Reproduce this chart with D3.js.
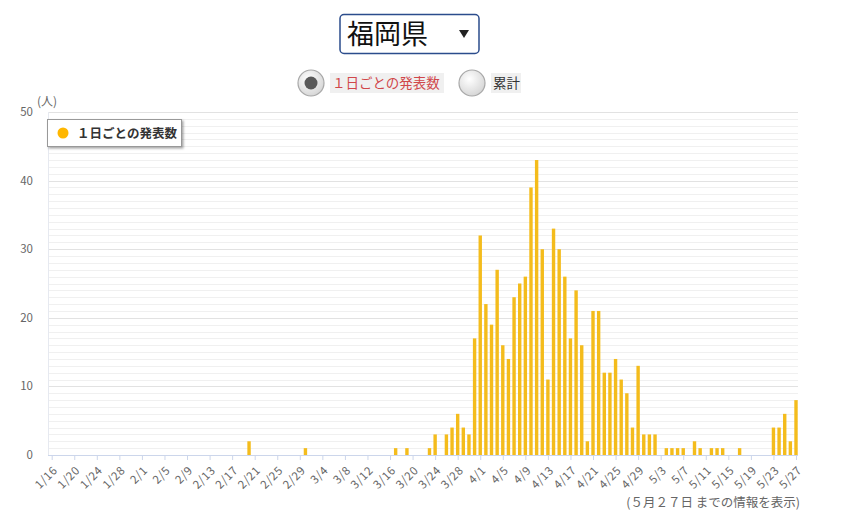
<!DOCTYPE html>
<html>
<head>
<meta charset="utf-8">
<script src="https://cdn.jsdelivr.net/npm/d3@7"></script>
<style>
  body { margin: 0; background: #fff; }
  svg text { font-family: "Noto Sans CJK JP", "Noto Sans", sans-serif; }
</style>
</head>
<body>
<div id="chart"></div>
<script>
// daily new cases, one array per month (1/16 .. 5/27)
const janValues = [0,0,0,0,0,0,0,0,0,0,0,0,0,0,0,0];                       // 1/16-1/31
const febValues = [0,0,0,0,0,0,0,0,0,0,0,0,0,0,0,0,0,0,0,2,0,0,0,0,0,0,0,0,0]; // 2/1-2/29
const marValues = [1,0,0,0,0,0,0,0,0,0,0,0,0,0,0,0,1,0,1,0,0,0,1,3,0,3,4,6,4,3,17];
const aprValues = [32,22,19,27,16,14,23,25,26,39,43,30,11,33,30,26,17,24,16,2,21,21,12,12,14,11,9,4,13,3];
const mayValues = [3,3,0,1,1,1,1,0,2,1,0,1,1,1,0,0,1,0,0,0,0,0,4,4,6,2,8];

const months = [
  {m: 1, start: 16, values: janValues},
  {m: 2, start: 1, values: febValues},
  {m: 3, start: 1, values: marValues},
  {m: 4, start: 1, values: aprValues},
  {m: 5, start: 1, values: mayValues}
];

const tickLabels = ["1/16","1/20","1/24","1/28","2/1","2/5","2/9","2/13","2/17","2/21","2/25","2/29",
  "3/4","3/8","3/12","3/16","3/20","3/24","3/28","4/1","4/5","4/9","4/13","4/17","4/21","4/25","4/29",
  "5/3","5/7","5/11","5/15","5/19","5/23","5/27"];
const yTicks = [0, 10, 20, 30, 40, 50];

const seriesName = "１日ごとの発表数";
const prefName = "福岡県";
const noteText = "(５月２７日 までの情報を表示)";

let data = [];
months.forEach(mo => {
  mo.values.forEach((v, i) => data.push({label: mo.m + "/" + (mo.start + i), value: v}));
});

const width = 846, height = 512;
const svg = d3.select("#chart").append("svg")
  .attr("width", width).attr("height", height);

let defs = svg.append("defs");
let grad = defs.append("radialGradient").attr("id", "radioGrad")
  .attr("cx", "40%").attr("cy", "35%").attr("r", "70%");
grad.append("stop").attr("offset", "0%").attr("stop-color", "#ffffff");
grad.append("stop").attr("offset", "100%").attr("stop-color", "#d4d4d4");
let shadow = defs.append("filter").attr("id", "shadow")
  .attr("x", "-10%").attr("y", "-10%").attr("width", "130%").attr("height", "150%");
shadow.append("feDropShadow").attr("dx", 1.5).attr("dy", 1.5).attr("stdDeviation", 1.2)
  .attr("flood-color", "#000").attr("flood-opacity", 0.35);

// prefecture selector
let sel = svg.append("g");
sel.append("rect").attr("x", 340).attr("y", 14.5).attr("width", 139).attr("height", 39)
  .attr("rx", 4).attr("fill", "#fff").attr("stroke", "#2b4c8c").attr("stroke-width", 1.5);
sel.append("text").attr("x", 347).attr("y", 44).attr("font-size", 27).attr("fill", "#111")
  .text(prefName);
sel.append("path").attr("d", "M459,30 L469,30 L464,38 Z").attr("fill", "#222");

// radio buttons
function radio(cx, cy, checked, label, color, lx, lw) {
  let g = svg.append("g");
  g.append("circle").attr("cx", cx).attr("cy", cy).attr("r", 13)
    .attr("fill", "url(#radioGrad)").attr("stroke", "#a8a8a8").attr("stroke-width", 1.2);
  if (checked) {
    g.append("circle").attr("cx", cx).attr("cy", cy).attr("r", 6.5).attr("fill", "#5a5a5a");
  }
  g.append("rect").attr("x", lx).attr("y", 73).attr("width", lw).attr("height", 20).attr("fill", "#f0f0f0");
  g.append("text").attr("x", lx + 2).attr("y", 88).attr("font-size", 13.5).attr("fill", color)
    .text(label);
}
radio(311, 83, true, seriesName, "#d0474a", 330, 114);
radio(472, 83, false, "累計", "#333", 491, 30);

// chart area
const plotLeft = 48, plotRight = 798;
const x = d3.scalePoint().domain(data.map(d => d.label)).range([51.7, 796]);
const y = d3.scaleLinear().domain([0, 50]).range([455, 112]);

// grid lines, one per unit
let grid = svg.append("g");
grid.selectAll("line").data(d3.range(1, 51)).join("line")
  .attr("x1", plotLeft).attr("x2", plotRight)
  .attr("y1", d => Math.round(y(d)) + 0.5).attr("y2", d => Math.round(y(d)) + 0.5)
  .attr("stroke", d => d % 10 === 0 ? "#e2e2e2" : "#f0f0f0").attr("stroke-width", 1);
svg.append("line").attr("x1", plotLeft + 0.5).attr("x2", plotLeft + 0.5)
  .attr("y1", y(50)).attr("y2", y(0)).attr("stroke", "#e6e9f0");

// y labels
svg.append("g").selectAll("text").data(yTicks).join("text")
  .attr("x", 33).attr("y", d => y(d) + 4).attr("text-anchor", "end")
  .attr("font-size", 11.5).attr("fill", "#666").text(d => d);
svg.append("text").attr("x", 37).attr("y", 106).attr("font-size", 12).attr("fill", "#666").text("(人)");

// bars
const barW = 3.4;
svg.append("g").selectAll("rect").data(data.filter(d => d.value > 0)).join("rect")
  .attr("x", d => x(d.label) - barW / 2).attr("width", barW)
  .attr("y", d => y(d.value)).attr("height", d => y(0) - y(d.value))
  .attr("fill", "#f4bc1c");

// x axis
let xAxis = svg.append("g").attr("transform", "translate(0," + y(0) + ")")
  .call(d3.axisBottom(x).tickValues(tickLabels).tickSize(5).tickSizeOuter(0));
xAxis.select(".domain").attr("stroke", "#ccd6eb").attr("d", "M" + plotLeft + ",0.5H" + plotRight);
xAxis.selectAll(".tick line").attr("stroke", "#ccd6eb");
xAxis.selectAll(".tick text")
  .attr("font-size", 11.5).attr("fill", "#666").attr("letter-spacing", 0.6)
  .attr("text-anchor", "end").attr("dy", 0).attr("y", 0)
  .attr("transform", "translate(6,16) rotate(-45)");

// legend
let leg = svg.append("g");
leg.append("rect").attr("x", 47.5).attr("y", 119.5).attr("width", 134).attr("height", 27)
  .attr("fill", "#fff").attr("stroke", "#999").attr("stroke-width", 1).attr("filter", "url(#shadow)");
leg.append("circle").attr("cx", 63).attr("cy", 133).attr("r", 5.5).attr("fill", "#ffb700");
leg.append("text").attr("x", 77).attr("y", 137.5).attr("font-size", 12.5).attr("font-weight", "bold")
  .attr("fill", "#333").text(seriesName);

// note
svg.append("text").attr("x", 800).attr("y", 507).attr("text-anchor", "end")
  .attr("font-size", 12.5).attr("fill", "#666").text(noteText);
</script>
</body>
</html>
